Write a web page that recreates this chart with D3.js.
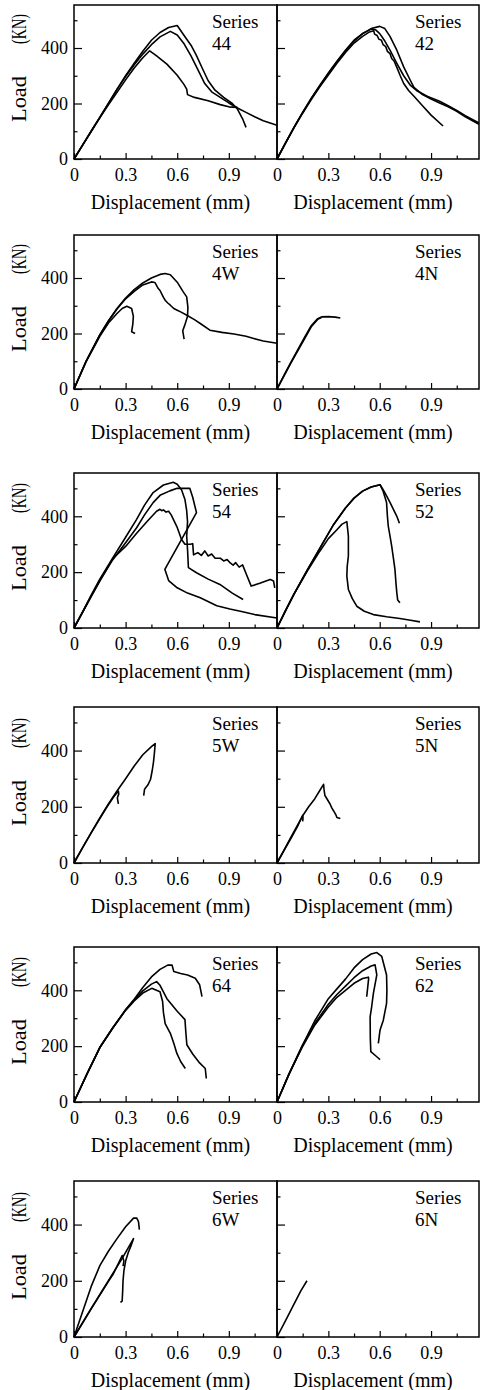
<!DOCTYPE html>
<html>
<head>
<meta charset="utf-8">
<script src="https://cdn.jsdelivr.net/npm/d3@7"></script>
<style>
  body { margin: 0; background: #fff; }
  text { font-family: "Liberation Serif", "Times New Roman", serif; fill: #000; }
</style>
</head>
<body>
<div id="container"></div>
<script>
// tick values
const xTicks = [0, 0.3, 0.6, 0.9];
const xMinor = [0.15, 0.45, 0.75, 1.05];
const yTicks = [0, 200, 400];
const yMinor = [100, 300, 500];

// panel names, two per row
const rows = [["44", "42"], ["4W", "4N"], ["54", "52"], ["5W", "5N"], ["64", "62"], ["6W", "6N"]];

// curves: [displacement mm, load KN]
const series44 = [
  [[0,0],[0.05,50],[0.1,100],[0.15,150],[0.2,200],[0.25,252],[0.3,300],[0.35,345],[0.4,388],[0.45,428],[0.5,456],[0.55,474],[0.6,481],[0.61,472],[0.64,445],[0.68,410],[0.71,375],[0.72,362],[0.745,328],[0.78,282],[0.82,248],[0.87,222],[0.92,200],[0.95,180],[0.98,145],[1.0,114]],
  [[0,0],[0.05,50],[0.1,100],[0.15,150],[0.2,200],[0.25,250],[0.3,297],[0.35,340],[0.4,378],[0.45,412],[0.5,440],[0.56,460],[0.6,447],[0.64,415],[0.68,372],[0.72,322],[0.76,272],[0.8,242],[0.85,222],[0.9,202],[0.95,184],[1.0,168],[1.05,152],[1.1,138],[1.18,122]],
  [[0,0],[0.05,50],[0.1,100],[0.15,148],[0.2,195],[0.25,240],[0.3,285],[0.35,328],[0.4,365],[0.44,390],[0.48,372],[0.54,342],[0.6,302],[0.64,268],[0.655,252],[0.66,232],[0.7,222],[0.78,210],[0.85,196],[0.9,188],[0.95,186]]
];
const series42 = [
  [[0,0],[0.05,58],[0.1,115],[0.15,168],[0.2,218],[0.25,264],[0.3,308],[0.35,350],[0.4,390],[0.45,425],[0.5,452],[0.55,470],[0.6,478],[0.63,470],[0.66,442],[0.7,392],[0.74,332],[0.78,282],[0.8,258],[0.85,232],[0.9,216],[0.95,202],[1.0,188],[1.05,172],[1.1,152],[1.18,125]],
  [[0,0],[0.05,58],[0.1,115],[0.15,168],[0.2,218],[0.25,265],[0.3,310],[0.35,352],[0.4,392],[0.45,428],[0.5,452],[0.55,468],[0.575,466],[0.6,452],[0.63,425],[0.66,392],[0.7,345],[0.74,300],[0.78,265],[0.82,245],[0.88,225],[0.95,208],[1.0,192],[1.05,175],[1.1,156],[1.18,130]],
  [[0,0],[0.05,57],[0.1,113],[0.15,165],[0.2,214],[0.25,260],[0.3,303],[0.35,345],[0.4,384],[0.45,418],[0.5,442],[0.54,458],[0.565,462],[0.57,450],[0.585,445],[0.595,432],[0.61,428],[0.62,412],[0.635,405],[0.645,388],[0.66,380],[0.67,362],[0.685,352],[0.7,330],[0.72,300],[0.74,272],[0.77,246],[0.8,226],[0.85,192],[0.9,158],[0.97,119]]
];
const series4W = [
  [[0,0],[0.07,100],[0.15,195],[0.2,245],[0.25,290],[0.3,328],[0.35,358],[0.4,382],[0.45,400],[0.5,413],[0.53,416],[0.56,412],[0.6,385],[0.635,350],[0.655,332],[0.662,295],[0.66,262],[0.645,232],[0.632,210],[0.64,180]],
  [[0,0],[0.07,100],[0.15,195],[0.2,245],[0.25,288],[0.3,325],[0.35,352],[0.4,375],[0.45,386],[0.47,384],[0.49,362],[0.5,355],[0.52,330],[0.53,320],[0.545,310],[0.56,302],[0.58,290],[0.6,284],[0.62,278],[0.656,266],[0.7,250],[0.734,236],[0.79,212],[0.86,204],[0.93,198],[1.0,190],[1.045,182],[1.1,173],[1.18,165]],
  [[0,0],[0.07,98],[0.15,190],[0.2,238],[0.25,272],[0.28,290],[0.307,298],[0.335,290],[0.345,262],[0.342,235],[0.335,206],[0.355,200]]
];
const series4N = [
  [[0,0],[0.04,48],[0.08,95],[0.12,140],[0.16,185],[0.2,228],[0.235,252],[0.26,260],[0.3,261],[0.34,259],[0.37,256]],
  [[0,0],[0.08,92],[0.16,180],[0.2,224],[0.24,252],[0.26,258]]
];
const series54 = [
  [[0,0],[0.05,58],[0.1,118],[0.15,175],[0.22,246],[0.3,325],[0.364,389],[0.41,440],[0.46,485],[0.52,512],[0.577,522],[0.6,515],[0.625,495],[0.645,460],[0.655,420],[0.66,380],[0.655,330],[0.66,280],[0.665,216],[0.712,198],[0.78,175],[0.848,156],[0.92,125],[0.983,102]],
  [[0,0],[0.05,57],[0.1,115],[0.15,170],[0.22,240],[0.3,305],[0.364,359],[0.41,405],[0.46,449],[0.5,475],[0.557,491],[0.6,500],[0.673,500],[0.69,468],[0.712,413],[0.528,210],[0.55,170],[0.6,144],[0.66,125],[0.734,108],[0.83,80],[0.906,68],[0.967,60],[1.05,48],[1.18,36]],
  [[0,0],[0.05,56],[0.1,112],[0.15,168],[0.228,250],[0.3,292],[0.364,339],[0.43,385],[0.48,418],[0.5,425],[0.51,420],[0.52,423],[0.535,415],[0.55,418],[0.565,405],[0.6,360],[0.625,317],[0.645,300],[0.675,300],[0.69,302],[0.695,262],[0.72,270],[0.74,260],[0.76,276],[0.78,258],[0.8,265],[0.82,250],[0.85,250],[0.87,240],[0.89,245],[0.91,232],[0.925,225],[0.94,234],[0.96,218],[0.98,226],[1.0,195],[1.03,150],[1.08,160],[1.14,174],[1.16,168],[1.167,144]]
];
const series52 = [
  [[0,0],[0.05,62],[0.1,122],[0.175,205],[0.25,285],[0.33,370],[0.4,430],[0.45,465],[0.5,490],[0.55,505],[0.602,513],[0.62,495],[0.64,473],[0.66,450],[0.68,425],[0.7,400],[0.715,375]],
  [[0,0],[0.05,62],[0.1,122],[0.175,205],[0.25,285],[0.33,370],[0.4,430],[0.45,465],[0.5,490],[0.55,505],[0.602,513],[0.62,490],[0.64,449],[0.645,400],[0.65,365],[0.66,330],[0.67,293],[0.68,250],[0.689,210],[0.695,160],[0.7,126],[0.705,100],[0.718,90]],
  [[0,0],[0.05,62],[0.1,122],[0.175,202],[0.25,275],[0.3,320],[0.35,352],[0.38,372],[0.408,381],[0.417,329],[0.417,258],[0.41,220],[0.408,186],[0.417,138],[0.44,105],[0.466,78],[0.51,60],[0.563,48],[0.64,40],[0.718,34],[0.78,28],[0.835,22]]
];
const series5W = [
  [[0,0],[0.05,55],[0.1,108],[0.15,160],[0.2,210],[0.25,256],[0.3,300],[0.35,345],[0.4,385],[0.45,414],[0.472,425],[0.468,395],[0.462,359],[0.455,330],[0.445,298],[0.43,278],[0.41,262],[0.405,240]],
  [[0,0],[0.05,55],[0.1,107],[0.15,158],[0.19,198],[0.23,235],[0.258,256],[0.26,245],[0.252,232],[0.258,210]]
];
const series5N = [
  [[0,0],[0.04,45],[0.08,90],[0.12,135],[0.15,168],[0.185,200],[0.22,228],[0.25,258],[0.272,280],[0.275,260],[0.28,240],[0.295,225],[0.31,210],[0.32,196],[0.33,186],[0.345,170],[0.35,162],[0.37,158]],
  [[0,0],[0.04,43],[0.08,86],[0.12,130],[0.15,170],[0.152,160],[0.15,148]]
];
const series64 = [
  [[0,0],[0.075,100],[0.15,195],[0.225,265],[0.3,330],[0.35,368],[0.4,410],[0.45,448],[0.5,475],[0.545,490],[0.57,490],[0.58,467],[0.62,460],[0.66,455],[0.705,443],[0.73,420],[0.744,377]],
  [[0,0],[0.075,100],[0.15,195],[0.225,265],[0.3,330],[0.35,366],[0.4,398],[0.45,422],[0.48,431],[0.5,418],[0.54,370],[0.6,325],[0.645,295],[0.65,250],[0.656,205],[0.69,172],[0.73,140],[0.763,120],[0.769,84]],
  [[0,0],[0.075,100],[0.15,195],[0.225,265],[0.3,328],[0.35,362],[0.4,390],[0.452,407],[0.5,395],[0.515,360],[0.52,320],[0.53,281],[0.56,246],[0.58,210],[0.598,174],[0.62,145],[0.647,120]]
];
const series62 = [
  [[0,0],[0.07,100],[0.146,200],[0.22,290],[0.3,370],[0.35,405],[0.4,440],[0.45,480],[0.5,510],[0.55,530],[0.583,535],[0.612,521],[0.64,455],[0.642,400],[0.64,353],[0.621,293],[0.602,258],[0.592,210]],
  [[0,0],[0.07,100],[0.146,198],[0.22,280],[0.3,350],[0.35,385],[0.4,415],[0.45,445],[0.5,470],[0.55,487],[0.573,491],[0.583,455],[0.563,389],[0.553,341],[0.544,305],[0.545,230],[0.548,180],[0.583,162],[0.602,152]],
  [[0,0],[0.07,100],[0.146,195],[0.22,275],[0.3,340],[0.35,375],[0.4,400],[0.45,425],[0.5,442],[0.534,447],[0.535,440],[0.524,377]]
];
const series6W = [
  [[0,0],[0.05,90],[0.1,180],[0.151,255],[0.2,305],[0.25,350],[0.3,392],[0.346,423],[0.365,423],[0.375,410],[0.38,382]],
  [[0,0],[0.1,102],[0.2,200],[0.28,280],[0.346,350],[0.33,322],[0.315,300],[0.3,270],[0.29,235],[0.285,200],[0.283,165],[0.28,128],[0.27,123]],
  [[0,0],[0.1,100],[0.2,198],[0.229,225],[0.28,290],[0.29,270],[0.285,252]]
];
const series6N = [
  [[0,0],[0.05,58],[0.1,118],[0.14,165],[0.175,200]]
];

const curvesByName = {
  "44": series44, "42": series42, "4W": series4W, "4N": series4N,
  "54": series54, "52": series52, "5W": series5W, "5N": series5N,
  "64": series64, "62": series62, "6W": series6W, "6N": series6N
};

const width = 480;
const height = 1390;
const rowTops = [5, 235, 473, 707, 947, 1181];
const rowBottoms = [159, 389, 628, 863, 1102, 1337];
const colLeft = [74, 277];
const colRight = [277, 479];
const serif = "'Liberation Serif', 'Times New Roman', serif";

const svg = d3.select("#container").append("svg")
    .attr("width", width)
    .attr("height", height);

svg.append("rect").attr("width", width).attr("height", height).attr("fill", "#fff");

rows.forEach((pair, r) => {
    pair.forEach((name, c) => {
        const x = d3.scaleLinear().domain([0, 1.18]).range([colLeft[c], colRight[c]]);
        const y = d3.scaleLinear().domain([0, 555]).range([rowBottoms[r], rowTops[r]]);
        const g = svg.append("g");

        // curves
        curvesByName[name].forEach(curve => {
            g.append("path")
                .datum(curve)
                .attr("fill", "none")
                .attr("stroke", "#000")
                .attr("stroke-width", 1.6)
                .attr("stroke-linejoin", "round")
                .attr("d", d3.line()
                    .x(d => x(d[0]))
                    .y(d => y(d[1]))
                );
        });

        // minor ticks, pointing inward
        g.append("g")
            .attr("transform", `translate(0, ${rowBottoms[r]})`)
            .call(d3.axisBottom(x).tickValues(xMinor).tickSize(-3.5).tickFormat(""))
            .call(a => a.select(".domain").remove());
        g.append("g")
            .attr("transform", `translate(${colLeft[c]}, 0)`)
            .call(d3.axisLeft(y).tickValues(yMinor).tickSize(-3.5).tickFormat(""))
            .call(a => a.select(".domain").remove());

        // major ticks + labels
        g.append("g")
            .attr("transform", `translate(0, ${rowBottoms[r]})`)
            .call(d3.axisBottom(x).tickValues(xTicks).tickSize(-6).tickPadding(9).tickFormat(d => String(d)))
            .call(a => a.select(".domain").remove())
            .attr("font-family", serif)
            .attr("font-size", 18);

        const yAxis = g.append("g")
            .attr("transform", `translate(${colLeft[c]}, 0)`)
            .call(d3.axisLeft(y).tickValues(yTicks).tickSize(-8).tickPadding(6))
            .call(a => a.select(".domain").remove())
            .attr("font-family", serif)
            .attr("font-size", 18);
        if (c == 1) yAxis.selectAll("text").remove();

        g.selectAll(".tick line").attr("stroke-width", 1.2);

        // frame
        g.append("rect")
            .attr("x", colLeft[c])
            .attr("y", rowTops[r])
            .attr("width", colRight[c] - colLeft[c])
            .attr("height", rowBottoms[r] - rowTops[r])
            .attr("fill", "none")
            .attr("stroke", "#000")
            .attr("stroke-width", 1.5);

        // series label
        g.append("text")
            .attr("x", colLeft[c] + 138)
            .attr("y", rowTops[r] + 23)
            .attr("font-size", 19)
            .text("Series");
        g.append("text")
            .attr("x", colLeft[c] + 138)
            .attr("y", rowTops[r] + 45)
            .attr("font-size", 19)
            .text(name);

        // x title
        g.append("text")
            .attr("x", (colLeft[c] + colRight[c]) / 2 - 5)
            .attr("y", rowBottoms[r] + 50)
            .attr("text-anchor", "middle")
            .attr("font-size", 20)
            .text("Displacement (mm)");

        // y title
        if (c == 0) {
            g.append("text")
                .attr("transform", `translate(26, ${rowBottoms[r] - 60}) rotate(-90)`)
                .attr("text-anchor", "middle")
                .attr("font-size", 20)
                .attr("textLength", 46)
                .attr("lengthAdjust", "spacingAndGlyphs")
                .text("Load");
            g.append("text")
                .attr("transform", `translate(26, ${rowBottoms[r] - 130}) rotate(-90)`)
                .attr("text-anchor", "middle")
                .attr("font-size", 20)
                .attr("textLength", 30)
                .attr("lengthAdjust", "spacingAndGlyphs")
                .text("(KN)");
        }
    });
});
</script>
</body>
</html>
